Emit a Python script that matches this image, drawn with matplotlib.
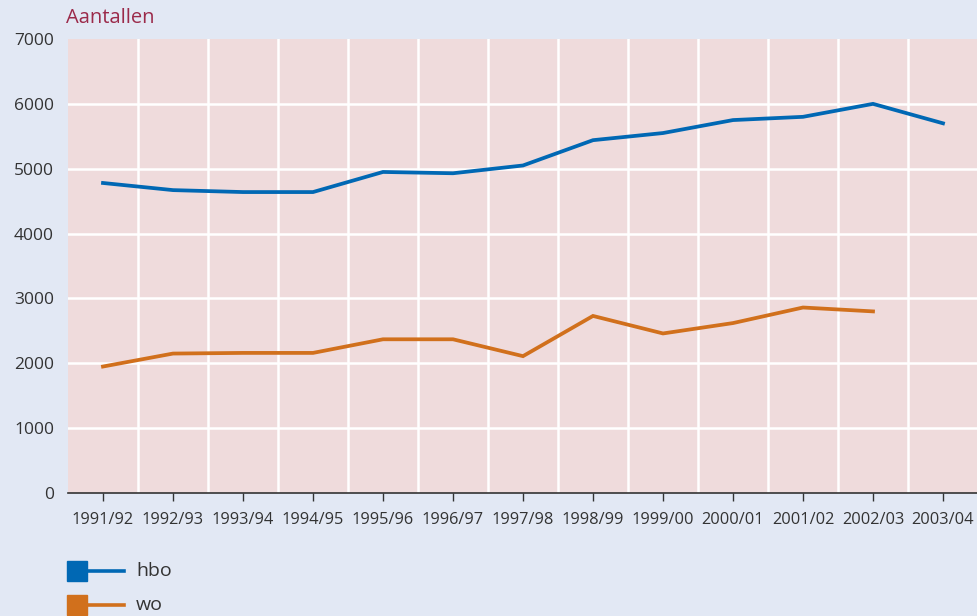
import matplotlib
matplotlib.use("Agg")
import matplotlib.pyplot as plt
from matplotlib.lines import Line2D

years = ["1991/92", "1992/93", "1993/94", "1994/95", "1995/96", "1996/97", "1997/98",
         "1998/99", "1999/00", "2000/01", "2001/02", "2002/03", "2003/04"]
hbo = [4780, 4670, 4640, 4640, 4950, 4930, 5050, 5440, 5550, 5750, 5800, 6000, 5700]
wo = [1950, 2150, 2160, 2160, 2370, 2370, 2110, 2730, 2460, 2620, 2860, 2800]
yticks = [0, 1000, 2000, 3000, 4000, 5000, 6000, 7000]

BG = "#e2e8f4"
PLOT_BG = "#efdbdc"
BLUE = "#0068b4"
ORANGE = "#d1701c"
TITLE = "#9b2a4a"
TEXT = "#333333"

plt.rcParams["font.family"] = ["Open Sans", "DejaVu Sans"]

fig = plt.figure(figsize=(9.78, 6.16), dpi=100, facecolor=BG)
ax = fig.add_axes([68 / 978, 1 - 493 / 616, 1 - 68 / 978, (493 - 39) / 616])
ax.set_facecolor(PLOT_BG)

x = list(range(len(years)))
ax.set_xlim(-0.5, len(years) - 0.5)
ax.set_ylim(0, 7000)

# white grid: horizontal at y ticks, vertical between categories
for v in yticks[1:-1]:
    ax.axhline(v, color="white", lw=1.8, zorder=1)
for i in range(len(years) - 1):
    ax.axvline(i + 0.5, color="white", lw=1.8, zorder=1)

ax.plot(x, hbo, color=BLUE, lw=2.7, zorder=3, solid_joinstyle="miter")
ax.plot(x[:len(wo)], wo, color=ORANGE, lw=2.7, zorder=3, solid_joinstyle="miter")

ax.set_xticks(x)
ax.set_xticklabels(years, fontsize=11.8, color=TEXT)
ax.set_yticks(yticks)
ax.set_yticklabels([str(v) for v in yticks], fontsize=12.5, color=TEXT)
ax.tick_params(axis="x", length=6, width=1, color=TEXT, pad=8)
ax.tick_params(axis="y", length=0, pad=10)
for s in ["top", "right", "left"]:
    ax.spines[s].set_visible(False)
ax.spines["bottom"].set_color(TEXT)
ax.spines["bottom"].set_linewidth(1.2)

fig.text(66 / 978, 1 - 18 / 616, "Aantallen", color=TITLE, fontsize=14.5, va="center", ha="left")

# legend
for name, col, yy in [("hbo", BLUE, 571), ("wo", ORANGE, 605)]:
    yf = 1 - yy / 616
    fig.add_artist(Line2D([78 / 978, 124 / 978], [yf, yf], color=col, lw=2.6))
    fig.add_artist(Line2D([77 / 978], [yf], marker="s", markersize=14, color=col, lw=0))
    fig.text(136 / 978, yf, name, fontsize=14, color=TEXT, va="center", ha="left")

fig.savefig("out.png", dpi=100, facecolor=BG)
plt.close(fig)
